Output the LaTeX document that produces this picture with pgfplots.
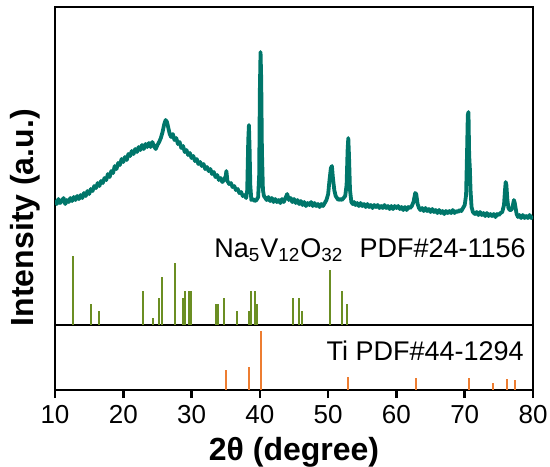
\documentclass[border=0pt]{standalone}
\usepackage{fontspec}
\setmainfont{Liberation Sans}
\usepackage{pgfplots}
\pgfplotsset{compat=1.18}
\usetikzlibrary{calc}

\definecolor{xrdteal}{RGB}{0,118,106}
\definecolor{pdfgreen}{RGB}{107,142,35}
\definecolor{pdforange}{RGB}{237,125,49}

% measured pattern (intensity in arbitrary units)
\pgfplotstableread{
x y
10.0 190
10.25 186
10.5 191
10.75 187
11.0 189
11.25 192
11.5 186
11.75 190
12.0 188
12.25 192
12.5 189
12.75 193
13.0 190
13.25 194
13.5 191
13.75 195
14.0 192
14.25 197
14.5 194
14.75 199
15.0 196
15.25 201
15.5 199
15.75 204
16.0 202
16.25 207
16.5 204
16.75 209
17.0 207
17.25 212
17.5 210
17.75 216
18.0 213
18.25 219
18.5 217
18.75 224
19.0 221
19.25 227
19.5 225
19.75 231
20.0 228
20.25 233
20.5 230
20.75 236
21.0 234
21.25 239
21.5 236
21.75 241
22.0 238
22.25 243
22.5 240
22.75 245
23.0 241
23.25 246
23.5 243
23.75 247
24.0 243
24.25 248
24.5 244
24.75 241
25.0 245
25.25 248
25.5 252
25.75 258
26.0 266
26.2 270
26.4 268
26.6 262
26.8 256
27.0 253
27.25 256
27.5 250
27.75 252
28.0 246
28.25 248
28.5 242
28.75 244
29.0 238
29.25 240
29.5 235
29.75 237
30.0 232
30.25 234
30.5 229
30.75 231
31.0 226
31.25 228
31.5 224
31.75 226
32.0 221
32.25 223
32.5 219
32.75 221
33.0 216
33.25 218
33.5 213
33.75 215
34.0 210
34.25 212
34.5 208
34.75 210
35.0 214
35.1 219
35.25 209
35.5 206
35.75 207
36.0 203
36.25 204
36.5 200
36.75 201
37.0 197
37.25 198
37.5 194
37.75 195
38.0 192
38.15 200
38.3 250
38.4 265
38.5 240
38.6 205
38.75 190
39.0 191
39.25 189
39.5 190
39.75 193
39.9 215
40.0 300
40.1 338
40.2 310
40.3 240
40.45 200
40.6 194
40.8 192
41.0 190
41.25 193
41.5 189
41.75 192
42.0 188
42.25 191
42.5 188
42.75 190
43.0 187
43.25 191
43.5 188
43.75 192
44.0 196
44.25 190
44.5 192
44.75 188
45.0 191
45.25 187
45.5 190
45.75 186
46.0 189
46.25 185
46.5 188
46.75 184
47.0 187
47.25 185
47.5 188
47.75 184
48.0 187
48.25 184
48.5 186
48.75 183
49.0 186
49.25 184
49.5 187
49.75 190
50.0 196
50.2 210
50.4 222
50.55 224
50.7 212
50.9 200
51.1 194
51.3 192
51.5 190
51.75 191
52.0 190
52.25 192
52.5 194
52.7 205
52.85 240
52.95 252
53.05 235
53.2 200
53.4 188
53.6 186
53.8 188
54.0 185
54.25 187
54.5 184
54.75 187
55.0 184
55.25 186
55.5 183
55.75 186
56.0 183
56.25 185
56.5 182
56.75 185
57.0 183
57.25 185
57.5 182
57.75 184
58.0 182
58.25 185
58.5 182
58.75 184
59.0 181
59.25 184
59.5 181
59.75 184
60.0 182
60.25 184
60.5 181
60.75 183
61.0 180
61.25 183
61.5 180
61.75 183
62.0 182
62.25 184
62.5 188
62.75 197
62.9 196
63.1 186
63.3 182
63.5 180
63.75 182
64.0 179
64.25 182
64.5 179
64.75 181
65.0 178
65.25 181
65.5 178
65.75 180
66.0 177
66.25 180
66.5 177
66.75 179
67.0 176
67.25 179
67.5 177
67.75 179
68.0 177
68.25 180
68.5 177
68.75 179
69.0 178
69.25 180
69.5 179
69.75 182
70.0 185
70.2 195
70.35 240
70.45 275
70.55 278
70.65 235
70.75 222
70.85 200
71.0 183
71.2 178
71.5 176
71.75 178
72.0 175
72.25 178
72.5 175
72.75 177
73.0 174
73.25 177
73.5 174
73.75 176
74.0 174
74.25 176
74.5 173
74.75 176
75.0 175
75.25 177
75.5 178
75.75 185
75.9 200
76.0 208
76.1 205
76.25 190
76.4 182
76.6 180
76.8 180
77.0 183
77.2 190
77.3 188
77.45 182
77.6 176
77.8 173
78.0 175
78.25 172
78.5 175
78.75 172
79.0 174
79.25 172
79.5 175
79.75 172
80.0 174
}\xrddata

\begin{document}
\begin{tikzpicture}
\begin{axis}[
    scale only axis,
    width=239pt, height=191.5pt,
    xmin=10, xmax=80, ymin=0, ymax=383,
    xtick={10,20,...,80}, ytick=\empty,
    xtick pos=bottom, tick align=outside,
    major tick length=4pt,
    axis line style={line width=1.25pt},
    every tick/.style={black, line width=1.25pt},
    tick label style={font=\fontsize{13}{13}\selectfont},
    /pgf/number format/assume math mode=true,
    xlabel={2θ (degree)},
    xlabel style={font=\fontsize{16}{16}\selectfont\bfseries},
    ylabel={Intensity (a.u.)},
    ylabel style={font=\fontsize{16}{16}\selectfont\bfseries,
        at={(axis description cs:-0.017,0.45)}, anchor=south},
]
    \coordinate (bl) at (rel axis cs:0,0);
    \coordinate (tr) at (rel axis cs:1,1);

    % sample pattern
    \addplot[xrdteal, line width=1.9pt, line join=round, mark=none] table[x=x, y=y] {\xrddata};

    % separator between the two reference cards
    \addplot[black, line width=0.6pt, mark=none] coordinates {(10,65) (80,65)};

    % Ti PDF#44-1294
    \addplot[pdforange, line width=1pt, ycomb, mark=none] coordinates {
        (35.1,20) (38.45,23) (40.15,59) (52.95,13) (62.9,12)
        (70.6,12) (74.1,7) (76.15,11) (77.35,10)
    };

    \node[anchor=base east, inner sep=0pt, font=\fontsize{13.5}{13.5}\selectfont]
        at (axis cs:79.0,133) {Na\textsubscript{5}V\textsubscript{12}O\textsubscript{32}\hspace{0.6em}PDF\#24-1156};
    \node[anchor=base east, inner sep=0pt, font=\fontsize{13.5}{13.5}\selectfont]
        at (axis cs:78.7,30) {Ti PDF\#44-1294};
\end{axis}

% Na5V12O32 PDF#24-1156, drawn on its own baseline
\begin{axis}[
    scale only axis,
    width=239pt, height=191.5pt,
    xmin=10, xmax=80, ymin=-65, ymax=318,
    hide axis,
]
    \addplot[pdfgreen, line width=1pt, ycomb, mark=none] coordinates {
        (12.6,69) (15.2,21) (16.5,14) (22.95,34) (24.3,7)
        (25.3,27) (25.7,48) (27.6,62) (28.7,27) (29.0,34)
        (29.6,34) (29.85,34) (33.6,21) (33.85,21) (34.7,27)
        (36.7,14) (38.45,14) (38.7,34) (39.3,34) (39.6,21)
        (44.8,27) (45.7,27) (46.2,14) (50.3,55) (52.0,34) (52.8,21)
    };
\end{axis}

\pgfresetboundingbox
\path ($(bl)+(-27.5pt,-38pt)$) rectangle ($(tr)+(8.5pt,3.5pt)$);
\end{tikzpicture}
\end{document}
